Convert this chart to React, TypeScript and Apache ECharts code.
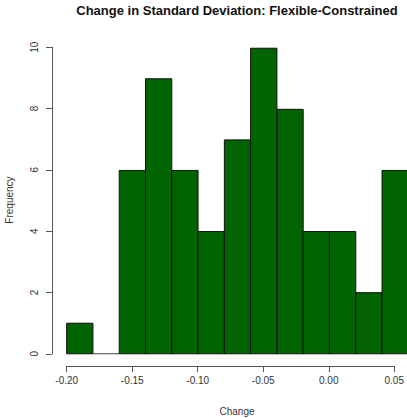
import React, { useEffect, useRef } from "react";
import * as echarts from "echarts";

const binEdges = [-0.2, -0.18, -0.16, -0.14, -0.12, -0.1, -0.08, -0.06, -0.04, -0.02, 0.0, 0.02, 0.04, 0.06];
const counts = [1, 0, 6, 9, 6, 4, 7, 10, 8, 4, 4, 2, 6];
const xTicks = [-0.2, 0.05];
const yTicks = [0, 10];
const title = "Change in Standard Deviation: Flexible-Constrained";
const xName = "Change";
const yName = "Frequency";

export default function App() {
  const ref = useRef<HTMLDivElement>(null);
  useEffect(() => {
    if (!ref.current) return;
    const chart = echarts.init(ref.current, null, { renderer: "svg" });
    const data = counts.map((c, i) => [binEdges[i], binEdges[i + 1], c]);
    const font = "Liberation Sans, Arial, sans-serif";
    const axisColor = "#555";
    chart.setOption({
      animation: false,
      backgroundColor: "#fff",
      textStyle: { fontFamily: font },
      grid: [
        { left: 53, width: 354, top: 36, height: 330 },
        { left: 66.7, width: 328.5, top: 36, height: 330 },
        { left: 52, width: 300, top: 47.2, height: 306.6 },
      ],
      xAxis: [
        { gridIndex: 0, type: "value", min: -0.2104, max: 0.059, show: false },
        {
          gridIndex: 1,
          type: "value",
          min: xTicks[0],
          max: xTicks[1],
          interval: 0.05,
          position: "bottom",
          axisLine: { show: true, lineStyle: { color: axisColor, width: 1 } },
          axisTick: { show: true, length: 6, lineStyle: { color: axisColor } },
          splitLine: { show: false },
          axisLabel: {
            margin: 9,
            fontSize: 10,
            color: "#333",
            fontFamily: font,
            formatter: (v: number) => v.toFixed(2),
            showMinLabel: true,
            showMaxLabel: true,
          },
        },
        { gridIndex: 2, type: "value", min: 0, max: 1, show: false },
      ],
      yAxis: [
        { gridIndex: 0, type: "value", min: -0.4, max: 10.4, show: false },
        { gridIndex: 1, type: "value", min: 0, max: 1, show: false },
        {
          gridIndex: 2,
          type: "value",
          min: yTicks[0],
          max: yTicks[1],
          interval: 2,
          position: "left",
          axisLine: { show: true, lineStyle: { color: axisColor, width: 1 } },
          axisTick: { show: true, length: 6, lineStyle: { color: axisColor } },
          splitLine: { show: false },
          axisLabel: {
            margin: 13,
            fontSize: 10,
            rotate: 90,
            color: "#333",
            fontFamily: font,
          },
        },
      ],
      graphic: [
        {
          type: "text",
          x: 237,
          y: 10,
          style: {
            text: title,
            fontSize: 13,
            fontWeight: "bold",
            fill: "#111",
            fontFamily: font,
            textAlign: "center",
            textVerticalAlign: "middle",
          },
        },
        {
          type: "text",
          x: 237,
          y: 411,
          style: {
            text: xName,
            fontSize: 10,
            fill: "#333",
            fontFamily: font,
            textAlign: "center",
            textVerticalAlign: "middle",
          },
        },
        {
          type: "text",
          x: 9,
          y: 200,
          rotation: Math.PI / 2,
          style: {
            text: yName,
            fontSize: 10,
            fill: "#333",
            fontFamily: font,
            textAlign: "center",
            textVerticalAlign: "middle",
          },
        },
      ],
      series: [
        {
          type: "custom",
          xAxisIndex: 0,
          yAxisIndex: 0,
          clip: false,
          encode: { x: [0, 1], y: 2 },
          data,
          renderItem: (params: any, api: any) => {
            const x0 = api.value(0);
            const x1 = api.value(1);
            const c = api.value(2);
            const p0 = api.coord([x0, c]);
            const p1 = api.coord([x1, 0]);
            if (c === 0) {
              return {
                type: "line",
                shape: { x1: p0[0], y1: p1[1], x2: p1[0], y2: p1[1] },
                style: { stroke: "#444", lineWidth: 1 },
              };
            }
            return {
              type: "rect",
              shape: { x: p0[0], y: p0[1], width: p1[0] - p0[0], height: p1[1] - p0[1] },
              style: { fill: "#006400", stroke: "#111", lineWidth: 1 },
            };
          },
        },
      ],
    });
    return () => chart.dispose();
  }, []);
  return (
    <div
      ref={ref}
      style={{ position: "fixed", left: 0, top: 0, width: 407, height: 418 }}
    />
  );
}
